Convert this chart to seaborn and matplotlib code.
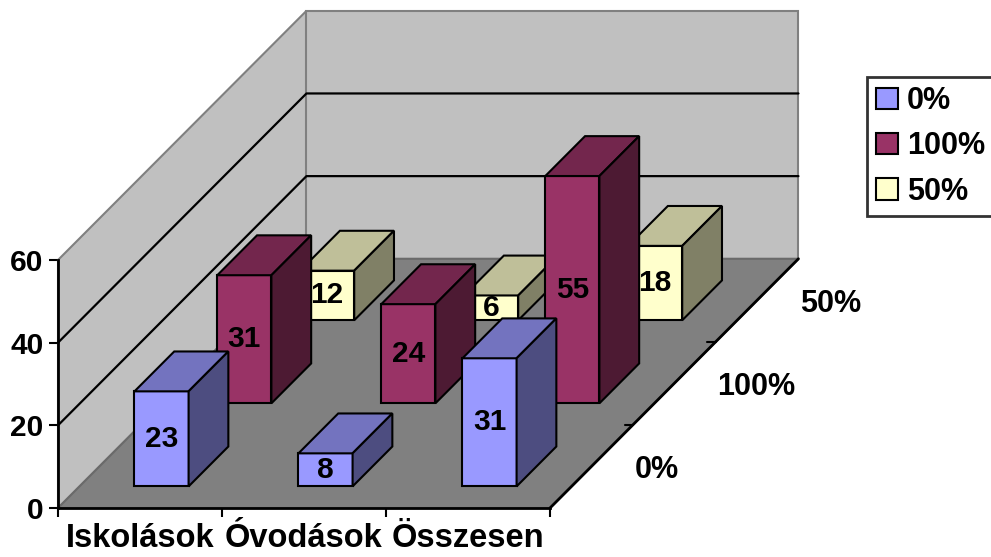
import matplotlib
matplotlib.use("Agg")
import matplotlib.pyplot as plt
from matplotlib.patches import Polygon, Patch
from matplotlib.colors import to_rgb
import seaborn as sns

# --- DATA ---
CATEGORIES = ["Iskolások", "Óvodások", "Összesen"]
SERIES = ["0%", "100%", "50%"]          # front row -> back row
VALUES_0 = [23, 8, 31]
VALUES_100 = [31, 24, 55]
VALUES_50 = [12, 6, 18]
Y_TICKS = [0, 20, 40, 60]

# --- STYLE ---
FRONT_COLORS = ["#9999FF", "#993366", "#FFFFCC"]
FLOOR = "#808080"
WALL = "#C0C0C0"
EDGE = "#808080"
Z_MAX = 60

# oblique projection: one depth row shifts right by DX categories and up by DY value units
DX, DY = 0.505, 20.1
BAR_X = (0.335, 0.665)   # bar span inside a category
BAR_D = (0.26, 0.74)     # bar span inside a depth row


def proj(x, z, d):
    return (x + d * DX, z + d * DY)


def shade(color, k):
    return tuple(c * k for c in to_rgb(color))


sns.set_style("white")
plt.rcParams["font.family"] = ["Liberation Sans", "DejaVu Sans"]
plt.rcParams["font.weight"] = "bold"
for key in ["text.color", "axes.labelcolor", "xtick.color", "ytick.color"]:
    plt.rcParams[key] = "black"

fig = plt.figure(figsize=(9.91, 5.57), dpi=100)
ax = fig.add_axes([0, 0, 1, 1])
ax.set_xlim(-58 / 164, (991 - 58) / 164)
ax.set_ylim(-(557 - 508) / 4.133, 508 / 4.133)
ax.patch.set_alpha(0)

n_cat = len(CATEGORIES)
n_row = len(SERIES)
depth = n_row

# --- walls and floor ---
floor = [proj(0, 0, 0), proj(n_cat, 0, 0), proj(n_cat, 0, depth), proj(0, 0, depth)]
left_wall = [proj(0, 0, 0), proj(0, Z_MAX, 0), proj(0, Z_MAX, depth), proj(0, 0, depth)]
back_wall = [proj(0, 0, depth), proj(n_cat, 0, depth), proj(n_cat, Z_MAX, depth), proj(0, Z_MAX, depth)]
ax.add_patch(Polygon(left_wall, closed=True, fc=WALL, ec=EDGE, lw=1.5, zorder=1))
ax.add_patch(Polygon(back_wall, closed=True, fc=WALL, ec=EDGE, lw=1.5, zorder=1))
ax.add_patch(Polygon(floor, closed=True, fc=FLOOR, ec="#6a6a6a", lw=1.5, zorder=1))

for v in Y_TICKS[1:-1]:
    pts = [proj(0, v, 0), proj(0, v, depth), proj(n_cat, v, depth)]
    ax.plot([p[0] for p in pts], [p[1] for p in pts], color="black", lw=1.6, zorder=2)

# depth axis with its ticks and labels
p0, p1 = proj(n_cat, 0, 0), proj(n_cat, 0, depth)
ax.plot([p0[0], p1[0]], [p0[1], p1[1]], color="black", lw=2, zorder=3)
for r in range(1, n_row):
    px, py = proj(n_cat, 0, r)
    ax.plot([px - 0.05, px], [py, py], color="black", lw=1.5, zorder=3)
for r, name in enumerate(SERIES):
    ax.annotate(name, proj(n_cat, 0, r + 0.5), xytext=(31, -2.5), textcoords="offset points",
                ha="left", va="center", fontsize=22, fontweight="bold")

# --- bars, back row first ---
rows = [VALUES_0, VALUES_100, VALUES_50]
z = 10
for r in reversed(range(n_row)):
    front = FRONT_COLORS[r]
    top = shade(front, 0.75)
    side = shade(front, 0.5)
    d0, d1 = r + BAR_D[0], r + BAR_D[1]
    for c, v in enumerate(rows[r]):
        x0, x1 = c + BAR_X[0], c + BAR_X[1]
        faces = [
            ([proj(x0, 0, d0), proj(x1, 0, d0), proj(x1, v, d0), proj(x0, v, d0)], front),
            ([proj(x0, v, d0), proj(x1, v, d0), proj(x1, v, d1), proj(x0, v, d1)], top),
            ([proj(x1, 0, d0), proj(x1, 0, d1), proj(x1, v, d1), proj(x1, v, d0)], side),
        ]
        for pts, col in faces:
            ax.add_patch(Polygon(pts, closed=True, fc=col, ec="black", lw=1.5, zorder=z))
        lx, ly = proj((x0 + x1) / 2, v / 2, d0)
        ax.text(lx, ly, str(v), ha="center", va="center", fontsize=21.5,
                fontweight="bold", zorder=z + 1)
        z += 2

# --- axes: value axis on the left wall, category axis on the front floor edge ---
for s in ["top", "right"]:
    ax.spines[s].set_visible(False)
ax.spines["left"].set_position(("data", 0))
ax.spines["left"].set_bounds(0, Z_MAX)
ax.spines["bottom"].set_position(("data", 0))
ax.spines["bottom"].set_bounds(0, n_cat)
for s in ["left", "bottom"]:
    ax.spines[s].set_linewidth(2)
    ax.spines[s].set_color("black")
    ax.spines[s].set_zorder(4)

ax.set_yticks(Y_TICKS)
ax.set_yticklabels([str(t) for t in Y_TICKS])
ax.tick_params(axis="y", direction="out", length=6.5, width=1.5, pad=4,
               labelsize=21.5, left=True, color="black")

ax.set_xticks(range(n_cat + 1))
ax.set_xticklabels([])
ax.set_xticks([c + 0.5 for c in range(n_cat)], minor=True)
ax.set_xticklabels(CATEGORIES, minor=True)
ax.tick_params(axis="x", which="major", direction="out", length=6.5, width=1.5,
               bottom=True, color="black")
ax.tick_params(axis="x", which="minor", length=0, pad=11, labelsize=23.5)
for lab in ax.get_xticklabels(minor=True) + ax.get_yticklabels():
    lab.set_fontweight("bold")

# --- legend ---
handles = [Patch(fc=FRONT_COLORS[i], ec="black", lw=1.5) for i in range(n_row)]
leg = ax.legend(handles, SERIES, loc="upper left", bbox_to_anchor=(867 / 991, 1 - 77 / 557),
                bbox_transform=fig.transFigure, borderaxespad=0, fancybox=False,
                frameon=True, fontsize=22, handlelength=0.7, handleheight=0.7,
                handletextpad=0.3, labelspacing=0.5, borderpad=0.3)
leg.get_frame().set_edgecolor("black")
leg.get_frame().set_linewidth(2)
for t in leg.get_texts():
    t.set_fontweight("bold")

fig.savefig("out.png", dpi=100)
